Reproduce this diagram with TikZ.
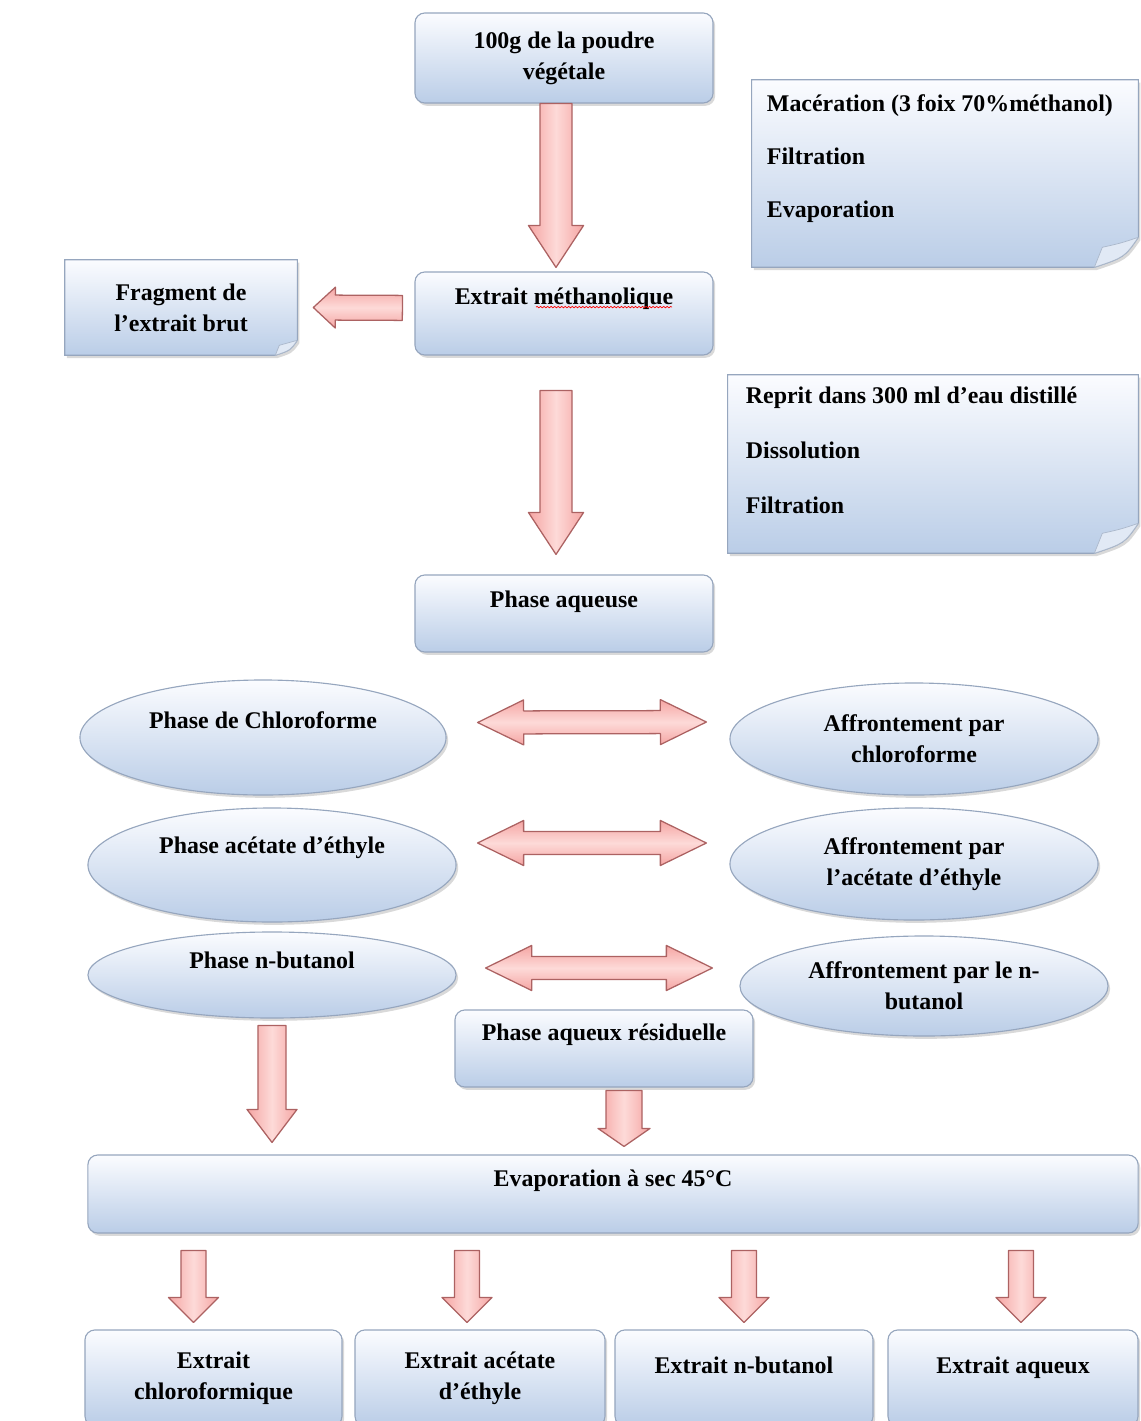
\documentclass[tikz,border=0pt]{standalone}
\usepackage{fontspec}
\setmainfont{Liberation Serif}
\usetikzlibrary{calc,shapes.geometric,shadows,decorations.pathmorphing}

\definecolor{boxtop}{RGB}{251,252,255}
\definecolor{boxbot}{RGB}{186,205,231}
\definecolor{boxedge}{RGB}{150,166,190}
\definecolor{pinkside}{RGB}{245,165,163}
\definecolor{pinkmid}{RGB}{253,218,216}
\definecolor{arrowedge}{RGB}{172,98,98}

\pgfdeclarelayer{background}
\pgfsetlayers{background,main}

\newcommand\txtfont{\bfseries\fontsize{17}{22}\selectfont}

\tikzset{
    box/.style={rectangle, rounded corners=7pt, draw=boxedge, line width=0.8pt,
        top color=boxtop, bottom color=boxbot, align=center, font=\txtfont,
        drop shadow={shadow xshift=1.5pt, shadow yshift=-2pt, opacity=0.3}},
    ell/.style={ellipse, draw=boxedge, line width=0.8pt, inner sep=0pt,
        top color=boxtop, bottom color=boxbot, align=center, font=\txtfont,
        drop shadow={shadow xshift=1.5pt, shadow yshift=-2pt, opacity=0.3}},
    notebox/.style={rectangle, inner sep=0pt, align=center, font=\txtfont},
    notetext/.style={inner sep=0pt, align=left, font=\txtfont},
    lift/.style={text depth=#1}, lift/.default=0.8cm,
    aw/.store in=\aw, ah/.store in=\ah, al/.store in=\al,
    aw=0.3cm, ah=0.6cm, al=0.8cm,
    vfill/.style={left color=pinkside, right color=pinkside, middle color=pinkmid},
    hfill/.style={top color=pinkside, bottom color=pinkside, middle color=pinkmid},
    fatarrow/.style={draw=arrowedge, line width=0.9pt, line join=round,
        to path={let \p1=(\tikztostart), \p2=(\tikztotarget), \n1={atan2(\y2-\y1,\x2-\x1)} in
            ($(\p1)+({\n1+90}:\aw)$) -- ($(\p2)+({\n1+180}:\al)+({\n1+90}:\aw)$)
            -- ($(\p2)+({\n1+180}:\al)+({\n1+90}:\ah)$) -- (\p2)
            -- ($(\p2)+({\n1+180}:\al)+({\n1-90}:\ah)$) -- ($(\p2)+({\n1+180}:\al)+({\n1-90}:\aw)$)
            -- ($(\p1)+({\n1-90}:\aw)$) -- cycle}},
    dblarrow/.style={draw=arrowedge, line width=0.9pt, line join=round,
        to path={let \p1=(\tikztostart), \p2=(\tikztotarget), \n1={atan2(\y2-\y1,\x2-\x1)} in
            (\p1) -- ($(\p1)+({\n1}:\al)+({\n1+90}:\ah)$) -- ($(\p1)+({\n1}:\al)+({\n1+90}:\aw)$)
            -- ($(\p2)+({\n1+180}:\al)+({\n1+90}:\aw)$) -- ($(\p2)+({\n1+180}:\al)+({\n1+90}:\ah)$)
            -- (\p2) -- ($(\p2)+({\n1+180}:\al)+({\n1-90}:\ah)$) -- ($(\p2)+({\n1+180}:\al)+({\n1-90}:\aw)$)
            -- ($(\p1)+({\n1}:\al)+({\n1-90}:\aw)$) -- ($(\p1)+({\n1}:\al)+({\n1-90}:\ah)$) -- cycle}},
}

% cadre avec coin replie, derriere le noeud
\newcommand\dogear[2][1]{%
    \begin{pgfonlayer}{background}
        \path[draw=boxedge, line width=0.8pt, top color=boxtop, bottom color=boxbot,
            drop shadow={shadow xshift=1.5pt, shadow yshift=-2pt, opacity=0.3}]
            (#2.north west) -- (#2.north east) -- ([yshift=0.75cm*#1]#2.south east)
            .. controls ([xshift=-0.35cm*#1,yshift=0.25cm*#1]#2.south east) .. ([xshift=-1.1cm*#1]#2.south east)
            -- (#2.south west) -- cycle;
        \path[draw=boxedge!80, line width=0.5pt, fill=boxtop!60!boxbot]
            ([yshift=0.75cm*#1]#2.south east)
            .. controls ([xshift=-0.45cm*#1,yshift=0.6cm*#1]#2.south east) .. ([xshift=-0.9cm*#1,yshift=0.5cm*#1]#2.south east)
            .. controls ([xshift=-1cm*#1,yshift=0.25cm*#1]#2.south east) .. ([xshift=-1.1cm*#1]#2.south east)
            .. controls ([xshift=-0.35cm*#1,yshift=0.25cm*#1]#2.south east) .. ([yshift=0.75cm*#1]#2.south east);
    \end{pgfonlayer}}

\begin{document}
\begin{tikzpicture}[x=0.025cm, y=-0.025cm]
    \useasboundingbox (0,0) rectangle (1141,1421);
    \clip (0,0) rectangle (1141,1421);

    % extraction
    \node[box, minimum width=7.45cm, minimum height=2.25cm] (poudre) at (564,58) {100g de la poudre\\végétale};
    \node[box, lift=0.85cm, minimum width=7.45cm, minimum height=2.075cm] (meth) at (564,313.5) {Extrait méthanolique};
    \draw[red, line width=0.5pt, decorate, decoration={snake, amplitude=0.5pt, segment length=2.5pt}]
        ([xshift=-0.7cm,yshift=0.16cm]meth.center) -- ([xshift=2.7cm,yshift=0.16cm]meth.center);
    \node[notebox, minimum width=5.8cm, minimum height=2.375cm] (frag) at (181,307.5) {Fragment de\\l'extrait brut};
    \dogear[0.5]{frag}

    \node[notebox, minimum width=9.65cm, minimum height=4.675cm] (mac) at (945,173.5) {};
    \dogear{mac}
    \node[notetext, anchor=north west] (mactxt) at ([xshift=0.375cm,yshift=-0.375cm]mac.north west)
        {Macération (3 foix 70\%méthanol)\\[15.7pt]Filtration\\[15.7pt]Evaporation};

    \node[notebox, minimum width=10.25cm, minimum height=4.45cm] (eau) at (933,464) {};
    \dogear{eau}
    \node[notetext, anchor=north west] (eautxt) at ([xshift=0.45cm,yshift=-0.3cm]eau.north west)
        {Reprit dans 300 ml d'eau distillé\\[17pt]Dissolution\\[17pt]Filtration};

    \node[box, lift=0.7cm, minimum width=7.45cm, minimum height=1.925cm] (aq) at (564,613.5) {Phase aqueuse};

    % affrontements
    \node[ell, lift=0.87cm, minimum width=9.15cm, minimum height=2.875cm] (chl) at (263,737.5) {Phase de Chloroforme};
    \node[ell, minimum width=9.2cm, minimum height=2.8cm] (achl) at (914,739) {Affrontement par\\chloroforme};
    \node[ell, lift=1cm, minimum width=9.2cm, minimum height=2.85cm] (ace) at (272,865) {Phase acétate d'éthyle};
    \node[ell, minimum width=9.2cm, minimum height=2.8cm] (aace) at (914,864) {Affrontement par\\l'acétate d'éthyle};
    \node[ell, lift=0.75cm, minimum width=9.2cm, minimum height=2.15cm] (but) at (272,975) {Phase n-butanol};
    \node[ell, minimum width=9.2cm, minimum height=2.5cm] (abut) at (924,986) {Affrontement par le n-\\butanol};

    \node[box, lift, minimum width=7.45cm, minimum height=1.925cm] (res) at (604,1048.5) {Phase aqueux résiduelle};
    \node[box, lift, minimum width=26.25cm, minimum height=1.95cm] (evap) at (613,1194) {Evaporation à sec 45°C};

    % extraits
    \node[box, minimum width=6.425cm, minimum height=2.4cm] (e1) at (213.5,1378) {Extrait\\chloroformique};
    \node[box, minimum width=6.25cm, minimum height=2.4cm] (e2) at (480,1378) {Extrait acétate\\d'éthyle};
    \node[box, lift=0.65cm, minimum width=6.45cm, minimum height=2.4cm] (e3) at (744,1378) {Extrait n-butanol};
    \node[box, lift=0.65cm, minimum width=6.25cm, minimum height=2.4cm] (e4) at (1013,1378) {Extrait aqueux};

    % fleches
    \path[fatarrow, vfill, aw=0.4cm, ah=0.69cm, al=1.05cm]
        ([xshift=-0.2cm]poudre.south) to ([xshift=-0.2cm,yshift=0.1cm]meth.north);
    \path[fatarrow, hfill, aw=0.3125cm, ah=0.51cm, al=0.55cm]
        ([xshift=-0.3cm,yshift=0.14cm]meth.west) to ([xshift=0.4cm]frag.east);
    \path[fatarrow, vfill, aw=0.4cm, ah=0.69cm, al=1.05cm]
        ([xshift=-0.2cm,yshift=-0.875cm]meth.south) to ([xshift=-0.2cm,yshift=0.5cm]aq.north);

    \path[dblarrow, hfill, aw=0.2875cm, ah=0.5625cm, al=1.15cm]
        ([xshift=0.775cm,yshift=0.375cm]chl.east) to ([xshift=-0.575cm,yshift=0.425cm]achl.west);
    \path[dblarrow, hfill, aw=0.2875cm, ah=0.5625cm, al=1.15cm]
        ([xshift=0.525cm,yshift=0.55cm]ace.east) to ([xshift=-0.575cm,yshift=0.525cm]aace.west);
    \path[dblarrow, hfill, aw=0.2875cm, ah=0.5625cm, al=1.15cm]
        ([xshift=0.725cm,yshift=0.175cm]but.east) to ([xshift=-0.675cm,yshift=0.45cm]abut.west);

    \coordinate (bt) at (but.south |- evap.north);
    \coordinate (rt) at (res.south |- evap.north);
    \path[fatarrow, vfill, aw=0.35cm, ah=0.625cm, al=0.825cm]
        ([yshift=-0.175cm]but.south) to ([yshift=0.3cm]bt);
    \path[fatarrow, vfill, aw=0.45cm, ah=0.65cm, al=0.45cm]
        ([xshift=0.5cm,yshift=-0.075cm]res.south) to ([xshift=0.5cm,yshift=0.2cm]rt);

    \foreach \e/\dx in {e1/-0.5cm, e2/-0.325cm, e3/0cm, e4/0.2cm}
    {
        \coordinate (t\e) at (\e.north |- evap.south);
        \path[fatarrow, vfill, aw=0.3125cm, ah=0.625cm, al=0.625cm]
            ([xshift=\dx,yshift=-0.425cm]t\e) to ([xshift=\dx,yshift=0.175cm]\e.north);
    }
\end{tikzpicture}
\end{document}
